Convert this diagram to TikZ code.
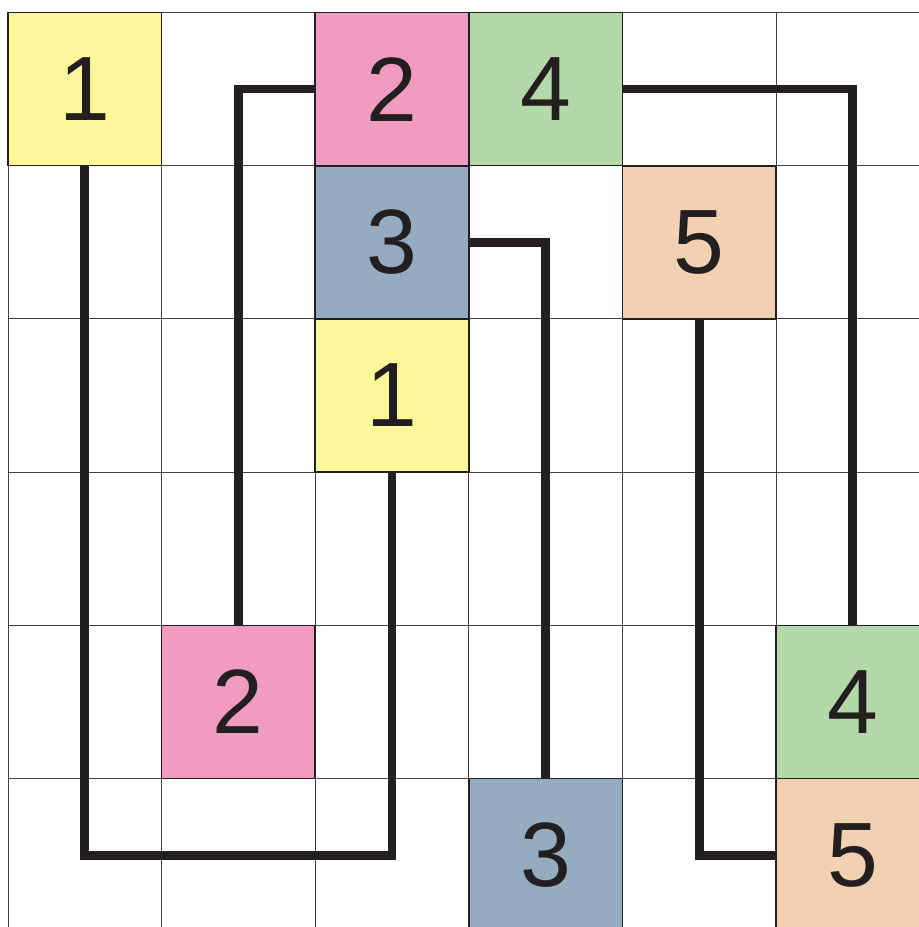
\documentclass[tikz,border=0pt]{standalone}
\usepackage{fontspec}
\setmainfont{Liberation Sans}
\usetikzlibrary{positioning}
\definecolor{tileyellow}{RGB}{255,247,153}
\definecolor{tilepink}{RGB}{240,155,192}
\definecolor{tilegreen}{RGB}{180,217,168}
\definecolor{tileblue}{RGB}{149,172,192}
\definecolor{tilepeach}{RGB}{242,208,178}
\definecolor{inkblack}{RGB}{35,31,32}

\begin{document}
\begin{tikzpicture}[
    x=0.02cm, y=0.02cm,
    cell/.style={rectangle, draw=inkblack!85, line width=0.5pt, minimum width=3.072cm, minimum height=3.064cm, inner sep=0pt, outer sep=0pt},
    tile/.style={cell, draw=inkblack, line width=0.9pt, text=inkblack, font=\fontsize{52}{60}\selectfont},
    wire/.style={line width=5pt, draw=inkblack}
]
    \useasboundingbox (0,0) rectangle (919,-927);
    \clip (0,0) rectangle (919,-927);

    % empty grid
    \foreach \i in {0,...,5}
        \foreach \j in {0,...,5}
            \node[cell] (c-\i-\j) at ({8+153.6*\i+76.8}, {-(12.5+153.2*\j+76.6)}) {};

    % numbered tiles
    \node[tile, fill=tileyellow] at (c-0-0) (yel1a) {1};
    \node[tile, fill=tilepink]   at (c-2-0) (pnk2a) {2};
    \node[tile, fill=tilegreen]  at (c-3-0) (grn4a) {4};
    \node[tile, fill=tileblue]   at (c-2-1) (blu3a) {3};
    \node[tile, fill=tilepeach]  at (c-4-1) (pch5a) {5};
    \node[tile, fill=tileyellow] at (c-2-2) (yel1b) {1};
    \node[tile, fill=tilepink]   at (c-1-4) (pnk2b) {2};
    \node[tile, fill=tilegreen]  at (c-5-4) (grn4b) {4};
    \node[tile, fill=tileblue]   at (c-3-5) (blu3b) {3};
    \node[tile, fill=tilepeach]  at (c-5-5) (pch5b) {5};

    % connections
    \draw[wire] (yel1a.south) |- (c-2-5.center) -- (yel1b.south);
    \draw[wire] (pnk2a.west) -| (pnk2b.north);
    \draw[wire] (blu3a.east) -| (blu3b.north);
    \draw[wire] (grn4a.east) -| (grn4b.north);
    \draw[wire] (pch5a.south) |- (pch5b.west);
\end{tikzpicture}
\end{document}
